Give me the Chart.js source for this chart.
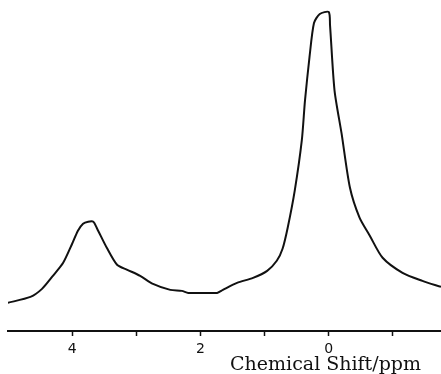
<!DOCTYPE html>
<html>
<head>
<meta charset="utf-8">
<script src="https://cdn.jsdelivr.net/npm/chart.js@4"></script>
<style>
  html, body { margin: 0; padding: 0; background: #fff; }
  canvas { display: block; }
</style>
</head>
<body>
<canvas id="nmrChart" width="441" height="374"></canvas>
<script>
// chemical shift (ppm) and intensity
const shifts = [5.01, 4.65, 4.47, 4.30, 4.14, 4.00, 3.91, 3.83, 3.75, 3.67, 3.61, 3.46, 3.30, 3.14, 2.94, 2.74, 2.47, 2.29, 2.19, 2.01, 1.74, 1.65, 1.43, 1.18, 0.96, 0.81, 0.72, 0.64, 0.53, 0.42, 0.37, 0.30, 0.23, 0.14, 0.00, -0.02, -0.09, -0.20, -0.33, -0.48, -0.64, -0.84, -1.15, -1.46, -1.75];
const intensity = [28, 34, 42, 55, 68, 87, 100, 107, 109, 109, 102, 83, 66, 61, 55, 47, 41, 40, 38, 38, 38, 41, 48, 53, 60, 70, 82, 103, 140, 190, 230, 273, 307, 316, 318, 305, 240, 197, 143, 113, 95, 73, 58, 50, 44];

const tickValues = [4, 3, 2, 1, 0, -1];
const tickLabels = ['4', '', '2', '', '0', ''];
const axisTitle = 'Chemical Shift/ppm';

const points = shifts.map((s, i) => ({ x: s, y: intensity[i] }));

// the built-in scale title goes off canvas on a reversed axis, so draw it here
const axisTitlePlugin = {
  id: 'axisTitle',
  afterDraw(chart) {
    const c = chart.ctx;
    const xs = chart.scales.x;
    c.save();
    c.font = "19px 'DejaVu Serif', serif";
    c.fillStyle = '#111';
    c.textAlign = 'right';
    c.textBaseline = 'alphabetic';
    c.fillText(axisTitle, xs.right - 20, 370);
    c.restore();
  }
};

const ctx = document.getElementById('nmrChart').getContext('2d');
new Chart(ctx, {
  type: 'line',
  data: {
    datasets: [{
      data: points,
      borderColor: '#111',
      borderWidth: 2,
      pointRadius: 0,
      tension: 0.25,
      fill: false
    }]
  },
  options: {
    responsive: false,
    animation: false,
    devicePixelRatio: 1,
    layout: { padding: { left: 8, right: 0, top: 0, bottom: 12 } },
    plugins: { legend: { display: false }, tooltip: { enabled: false } },
    scales: {
      x: {
        type: 'linear',
        reverse: true,
        min: -1.75,
        max: 5.0,
        afterBuildTicks: axis => { axis.ticks = tickValues.map(v => ({ value: v })); },
        ticks: {
          color: '#111',
          padding: 6,
          maxRotation: 0,
          autoSkip: false,
          font: { family: "'DejaVu Sans', sans-serif", size: 14, lineHeight: 1 },
          callback: (v) => tickLabels[tickValues.indexOf(v)]
        },
        grid: { drawOnChartArea: false, drawTicks: true, tickLength: 5, color: '#111', tickWidth: 1.5 },
        border: { display: true, color: '#111', width: 2 }
      },
      y: { display: false, min: 0, max: 330 }
    }
  },
  plugins: [axisTitlePlugin]
});
</script>
</body>
</html>
